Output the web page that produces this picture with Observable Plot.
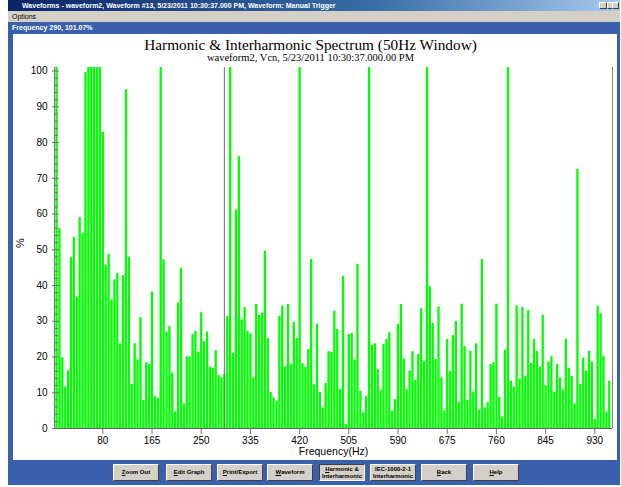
<!DOCTYPE html>
<html>
<head>
<meta charset="utf-8">
<script src="https://cdn.jsdelivr.net/npm/d3@7"></script>
<script src="https://cdn.jsdelivr.net/npm/@observablehq/plot@0.6"></script>
<style>
  html, body { margin: 0; padding: 0; background: #ffffff; }
  body { width: 621px; height: 487px; position: relative; overflow: hidden; font-family: "Liberation Sans", Arial, sans-serif; }
  .abs { position: absolute; }
  #titlebar { left: 8px; top: 0px; width: 612px; height: 11px; background: linear-gradient(to right, #0a246a, #3a6ea5 60%, #a6caf0); color: #fff; font: bold 7px "Liberation Sans", sans-serif; line-height: 11px; padding-left: 14px; box-sizing: border-box; white-space: nowrap; }
  #menubar { left: 8px; top: 11px; width: 612px; height: 11px; background: #d4d0c8; color: #000; font: 7px "Liberation Sans", sans-serif; line-height: 11px; padding-left: 4px; box-sizing: border-box; }
  #status { left: 8px; top: 22px; width: 612px; height: 12px; background: #3a5fad; color: #fff; font: bold 7px "Liberation Sans", sans-serif; line-height: 12px; padding-left: 4px; box-sizing: border-box; }
  #leftborder { left: 8px; top: 34px; width: 5px; height: 426px; background: #3a5fad; }
  #rightborder { left: 617px; top: 34px; width: 3px; height: 426px; background: #3a5fad; }
  #bottombar { left: 8px; top: 460px; width: 612px; height: 25px; background: #3a5fad; }
  .btn { position: absolute; top: 464px; height: 17px; background: #d4d0c8; border: 1px solid; border-color: #fff #404040 #404040 #fff; box-sizing: border-box; font: bold 6px "Liberation Sans", sans-serif; text-align: center; display: flex; align-items: center; justify-content: center; line-height: 6.5px; color: #000; }
  .btn.pressed { border-color: #404040 #fff #fff #404040; }
  #title { left: 0; width: 621px; top: 37px; height: 16px; line-height: 16px; text-align: center; font-family: "Liberation Serif", "Times New Roman", serif; font-size: 15.3px; color: #000; white-space: nowrap; }
  #subtitle { left: 0; width: 621px; top: 53px; height: 10px; line-height: 10px; text-align: center; font-family: "Liberation Serif", "Times New Roman", serif; font-size: 10.5px; color: #000; white-space: nowrap; }
  #chart { left: 0; top: 34px; }
  .winbtn { position: absolute; top: 2px; width: 8px; height: 7px; background: #d4d0c8; border: 1px solid; border-color: #fff #404040 #404040 #fff; box-sizing: border-box; }
</style>
</head>
<body>
<div id="chart" class="abs"></div>
<div id="titlebar" class="abs">Waveforms - waveform2, Waveform #13, 5/23/2011 10:30:37.000 PM, Waveform: Manual Trigger</div>
<div class="winbtn" style="left:599px"></div>
<div class="winbtn" style="left:607px"></div>
<div class="winbtn" style="left:612px; width:7px"></div>
<div id="menubar" class="abs">Options</div>
<div id="status" class="abs">Frequency 290, 101.07%</div>
<div id="leftborder" class="abs"></div>
<div id="rightborder" class="abs"></div>
<div id="bottombar" class="abs"></div>
<div class="btn" style="left:113px; width:46px"><u>Z</u>oom Out</div>
<div class="btn" style="left:166px; width:46px"><u>E</u>dit Graph</div>
<div class="btn" style="left:217px; width:46px"><u>P</u>rint/Export</div>
<div class="btn" style="left:267px; width:46px"><u>W</u>aveform</div>
<div class="btn pressed" style="left:319px; width:46px"><span><u>H</u>armonic &amp;<br>Interharmonic</span></div>
<div class="btn" style="left:370px; width:46px"><span>IEC-1000-2-1<br>Interharmonic</span></div>
<div class="btn" style="left:421px; width:46px"><u>B</u>ack</div>
<div class="btn" style="left:473px; width:46px"><u>H</u>elp</div>
<div id="title" class="abs">Harmonic &amp; Interharmonic Spectrum (50Hz Window)</div>
<div id="subtitle" class="abs">waveform2, Vcn, 5/23/2011 10:30:37.000.00 PM</div>
<script>
// Frequencies (Hz) of the spectral bins
const freqs = [0,5,10,15,20,25,30,35,40,45,50,55,60,65,70,75,80,85,90,95,
100,105,110,115,120,125,130,135,140,145,150,155,160,165,170,175,180,185,190,195,
200,205,210,215,220,225,230,235,240,245,250,255,260,265,270,275,280,285,290,295,
300,305,310,315,320,325,330,335,340,345,350,355,360,365,370,375,380,385,390,395,
400,405,410,415,420,425,430,435,440,445,450,455,460,465,470,475,480,485,490,495,
500,505,510,515,520,525,530,535,540,545,550,555,560,565,570,575,580,585,590,595,
600,605,610,615,620,625,630,635,640,645,650,655,660,665,670,675,680,685,690,695,
700,705,710,715,720,725,730,735,740,745,750,755,760,765,770,775,780,785,790,795,
800,805,810,815,820,825,830,835,840,845,850,855,860,865,870,875,880,885,890,895,
900,905,910,915,920,925,930,935,940,945,950,955];
// Magnitude (% of fundamental)
const values = [101,56.0,19.8,11.6,16.2,47.8,53.5,36.8,59,54.6,
99.6,101,101,101,101,101,82.9,45.7,48.7,36,
41.6,43.4,23.7,42.8,94.8,47.9,12.3,23.7,19.2,31,
7.8,18.4,17.9,38.2,8.9,8.4,101,47.2,26.9,28.5,
15.5,4.7,35.1,44.8,6.9,20.1,20,26.3,27.2,21.4,
32.4,24.3,27,17.1,16.9,21.8,14.8,14.2,15.1,31.3,
101.07,21,61.1,76,30.4,33.9,27.2,26.5,14.2,34.7,
31.6,32.3,49.6,25.2,10.1,8.6,7.6,31.4,34.3,17.3,
34.7,17.9,29.7,25.2,101,18.2,17.1,22.1,47.3,12.2,
29.2,10.1,5.8,12.6,21.5,21.3,32.8,27.7,10.9,42.5,
1.1,26.3,26.6,19.2,45.9,10.4,4.4,8.9,101,23.3,
23.7,16.5,10.7,23.5,24.9,26.8,4.8,8.1,29.1,34.7,
19.5,10.9,16.1,21.5,13.5,20.7,33.5,18.8,101,39.7,
29.4,19.3,34,14.2,5,24.9,15.9,26,29.9,7.4,
34.8,22.9,7.9,21.6,10.2,23.7,5.2,47.3,5.8,7.2,
17.9,18.4,34.8,8.8,3.2,21.9,101,13.2,11.6,34.3,
13.8,33.9,14.6,33,18.2,24.9,21.6,17.2,31.7,12,
18.6,20.1,10.2,17.9,14.1,10.8,25,16.9,14.6,6.9,
72.5,12.3,19.7,16.1,21.6,18.6,2.6,34.2,32.1,20.2,
4.6,13.2];
const xTicks = [80,165,250,335,420,505,590,675,760,845,930];
const yTicks = [0,10,20,30,40,50,60,70,80,90,100];
const yMinorTicks = [2,4,6,8,12,14,16,18,22,24,26,28,32,34,36,38,42,44,46,48,52,54,56,58,62,64,66,68,72,74,76,78,82,84,86,88,92,94,96,98];
const xDomain = [-3.5, 960.6];
const yDomain = [0, 101];
const cursorFreq = [290];
const xLabel = "Frequency(Hz)";
const yLabel = "%";

const data = freqs.map((f, i) => ({f, v: values[i]}));

const chart = Plot.plot({
  width: 621,
  height: 426,
  marginLeft: 54,
  marginRight: 9,
  marginTop: 33,
  marginBottom: 32,
  style: {background: "transparent", fontFamily: "'Liberation Sans', Arial, sans-serif", fontSize: "10px", color: "#000", overflow: "visible"},
  x: {domain: xDomain, axis: null},
  y: {domain: yDomain, axis: null},
  marks: [
    Plot.ruleX(data, {x: "f", y1: 0, y2: "v", stroke: "#00ff00", strokeWidth: 2.3, clip: true}),
    Plot.ruleX(cursorFreq, {stroke: "#707070", strokeWidth: 1}),
    Plot.ruleX([xDomain[1]], {stroke: "#808080", strokeWidth: 1}),
    Plot.ruleX([xDomain[0]], {stroke: "#808080", strokeWidth: 1}),
    Plot.ruleY([0], {stroke: "#606060", strokeWidth: 1}),
    Plot.axisY(yMinorTicks, {tickSize: 4, dx: 4, tickFormat: () => "", label: null, stroke: "#707070"}),
    Plot.axisY(yTicks, {tickSize: 7, dx: 5, tickFormat: () => "", label: null, stroke: "#707070"}),
    Plot.axisY(yTicks, {tickSize: 0, tickPadding: 7, label: null, fill: "#000", fontSize: 10}),
    Plot.axisX(xTicks, {tickSize: 6, tickPadding: 2, label: null, stroke: "#707070", fill: "#000", fontSize: 10}),
    Plot.text([xLabel], {frameAnchor: "bottom", dy: 26, text: d => d, fontSize: 10.5, fill: "#000"}),
    Plot.text([yLabel], {frameAnchor: "left", dx: -34, rotate: -90, text: d => d, fontSize: 11, fill: "#000"})
  ]
});
document.getElementById("chart").appendChild(chart);
</script>
</body>
</html>
